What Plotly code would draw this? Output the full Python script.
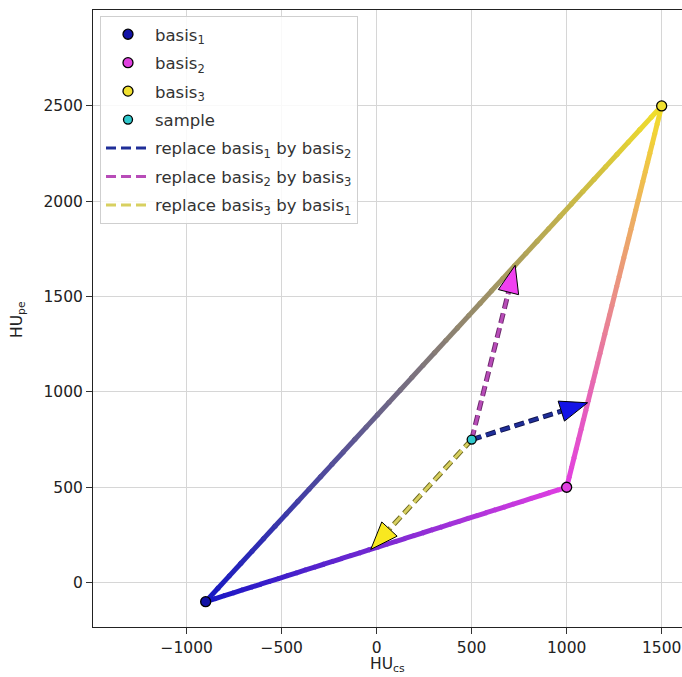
import numpy as np
import plotly.graph_objects as go

# ---- data ----
basis_names = ["basis<sub>1</sub>", "basis<sub>2</sub>", "basis<sub>3</sub>"]
basis_x = [-900, 1000, 1500]
basis_y = [-100, 500, 2500]
sample_x = [500]
sample_y = [750]
# arrow tips (where the replacement path meets the opposite edge)
arrow_names = ["replace basis<sub>1</sub> by basis<sub>2</sub>",
               "replace basis<sub>2</sub> by basis<sub>3</sub>",
               "replace basis<sub>3</sub> by basis<sub>1</sub>"]
arrow_end_x = [1110, 729, -31]
arrow_end_y = [943, 1664, 174]
x_ticks = [-1000, -500, 0, 500, 1000, 1500]
y_ticks = [0, 500, 1000, 1500, 2000, 2500]

# ---- styles ----
basis_rgb = [(22, 22, 196), (226, 62, 226), (242, 222, 42)]
basis_marker = ["#1212a6", "#e040e0", "#f0e030"]
sample_marker = "#30c8cc"
shaft_inner = ["#1f2e98", "#b84cb8", "#d8d060"]
shaft_outer = ["#121650", "#6e2c6e", "#6e6a20"]
head_fill = ["#1414e6", "#f040f0", "#f8e820"]
head_len = 145.0
head_half = 55.0
FONT = "DejaVu Sans"

fig = go.Figure()

# gradient triangle edges
edges = [(0, 2), (0, 1), (1, 2)]
nseg = 40
for a, b in edges:
    xa, ya, xb, yb = basis_x[a], basis_y[a], basis_x[b], basis_y[b]
    ca, cb = np.array(basis_rgb[a]), np.array(basis_rgb[b])
    ts = np.linspace(0, 1, nseg + 1)
    for i in range(nseg):
        t0, t1 = ts[i], ts[i + 1]
        tm = (t0 + t1) / 2
        c = ca + (cb - ca) * tm
        col = "rgb(%d,%d,%d)" % tuple(int(round(v)) for v in c)
        fig.add_trace(go.Scatter(
            x=[xa + (xb - xa) * t0, xa + (xb - xa) * (t1 + 0.004)],
            y=[ya + (yb - ya) * t0, ya + (yb - ya) * (t1 + 0.004)],
            mode="lines", line=dict(color=col, width=5),
            showlegend=False, hoverinfo="skip"))

# arrows (dashed shaft + triangular head)
for k in range(3):
    sx, sy = sample_x[0], sample_y[0]
    ex, ey = arrow_end_x[k], arrow_end_y[k]
    d = np.array([ex - sx, ey - sy], dtype=float)
    n = np.linalg.norm(d)
    u = d / n
    p = np.array([-u[1], u[0]])
    base = np.array([ex, ey]) - u * head_len
    fig.add_trace(go.Scatter(
        x=[sx, base[0]], y=[sy, base[1]], mode="lines",
        line=dict(color=shaft_outer[k], width=5, dash="10px,5px"),
        showlegend=False, hoverinfo="skip"))
    fig.add_trace(go.Scatter(
        x=[sx, base[0]], y=[sy, base[1]], mode="lines",
        line=dict(color=shaft_inner[k], width=3, dash="10px,5px"),
        name=arrow_names[k], legendgroup="a%d" % k, legendrank=5 + k,
        showlegend=True, hoverinfo="skip"))
    v1 = base + p * head_half
    v2 = base - p * head_half
    fig.add_trace(go.Scatter(
        x=[ex, v1[0], v2[0], ex], y=[ey, v1[1], v2[1], ey],
        mode="lines", fill="toself", fillcolor=head_fill[k],
        line=dict(color="black", width=1),
        showlegend=False, hoverinfo="skip"))

# basis markers
for k in range(3):
    fig.add_trace(go.Scatter(
        x=[basis_x[k]], y=[basis_y[k]], mode="markers",
        marker=dict(size=10, color=basis_marker[k],
                    line=dict(color="black", width=1.3)),
        name=basis_names[k], legendgroup="b%d" % k, legendrank=1 + k))
fig.add_trace(go.Scatter(
    x=sample_x, y=sample_y, mode="markers",
    marker=dict(size=9, color=sample_marker, line=dict(color="black", width=1.3)),
    name="sample", legendgroup="s", legendrank=4))

x0_px, x1_px = 93, 682
y0_px, y1_px = 10, 627
pw = x1_px - x0_px
ph = y1_px - y0_px

axis_common = dict(
    showgrid=True, gridcolor="#d6d6d6", gridwidth=1,
    zeroline=False, showline=True, linecolor="#222", linewidth=1,
    ticks="outside", ticklen=6, tickcolor="#333", tickwidth=1,
    tickfont=dict(family=FONT, size=15.5, color="#222"),
)

fig.update_layout(
    width=682, height=677,
    margin=dict(l=x0_px, r=0, t=y0_px, b=677 - y1_px),
    paper_bgcolor="white", plot_bgcolor="white",
    xaxis=dict(range=[-1493, 1607], tickvals=x_ticks,
               ticktext=[str(v).replace("-", "\u2212") for v in x_ticks],
               mirror=True, **axis_common),
    yaxis=dict(range=[-233, 3003], tickvals=y_ticks,
               ticktext=[str(v) for v in y_ticks], **axis_common),
    legend=dict(x=(100 - x0_px) / pw, y=1 - (16 - y0_px) / ph,
                xanchor="left", yanchor="top", itemwidth=44,
                bgcolor="rgba(255,255,255,0.85)", bordercolor="#cfcfcf",
                borderwidth=1, traceorder="grouped", tracegroupgap=4,
                font=dict(family=FONT, size=16.5, color="#333")),
    showlegend=True,
    annotations=[
        dict(text="HU<sub>cs</sub>", xref="paper", yref="paper",
             x=0.5, y=-(665 - y1_px) / ph, xanchor="center", yanchor="middle",
             showarrow=False, font=dict(family=FONT, size=15.5, color="#222")),
        dict(text="HU<sub>pe</sub>", xref="paper", yref="paper",
             x=(18 - x0_px) / pw, y=1 - (320 - y0_px) / ph,
             xanchor="center", yanchor="middle", textangle=-90,
             showarrow=False, font=dict(family=FONT, size=15.5, color="#222")),
    ],
)

fig.write_html("out.html", config={"displayModeBar": False},
               post_script="document.body.style.margin='0';document.body.style.overflow='hidden';")
